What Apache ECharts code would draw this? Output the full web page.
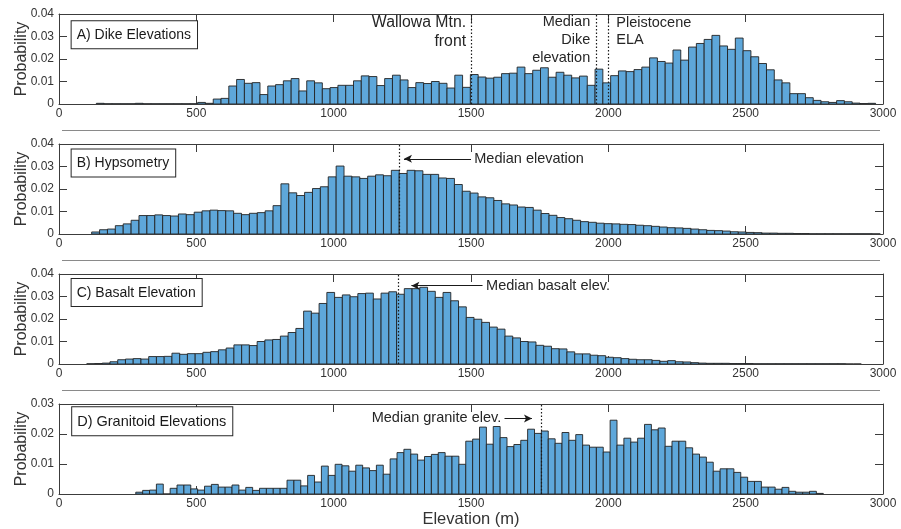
<!DOCTYPE html>
<html>
<head>
<meta charset="utf-8">
<script src="https://cdn.jsdelivr.net/npm/echarts@6/dist/echarts.min.js"></script>
<style>
  html, body { margin: 0; padding: 0; background: #fff; }
  #chart { width: 901px; height: 529px; }
</style>
</head>
<body>
<div id="chart"></div>
<script>
// Elevation histograms (probability per bin), 100 equal-width bins per panel.
const elevTicks = [0, 500, 1000, 1500, 2000, 2500, 3000];

const dikeBinStart = 136, dikeBinWidth = 28.37;
const dikeProb = [
  0.0003, 0.0001, 0.0001, 0.0001, 0.0001, 0.0003, 0.0001, 0.0001, 0.0001, 0.0001,
  0.0001, 0.0001, 0.0001, 0.0007, 0.0003, 0.0022, 0.0025, 0.0080, 0.0109, 0.0092,
  0.0095, 0.0042, 0.0080, 0.0086, 0.0103, 0.0113, 0.0058, 0.0103, 0.0094, 0.0068,
  0.0073, 0.0083, 0.0083, 0.0103, 0.0125, 0.0122, 0.0082, 0.0113, 0.0128, 0.0107,
  0.0073, 0.0095, 0.0091, 0.0100, 0.0092, 0.0071, 0.0128, 0.0074, 0.0131, 0.0120,
  0.0115, 0.0119, 0.0135, 0.0137, 0.0164, 0.0135, 0.0150, 0.0161, 0.0119, 0.0141,
  0.0128, 0.0116, 0.0124, 0.0083, 0.0155, 0.0094, 0.0126, 0.0147, 0.0144, 0.0153,
  0.0164, 0.0205, 0.0189, 0.0182, 0.0240, 0.0195, 0.0253, 0.0269, 0.0287, 0.0305,
  0.0258, 0.0243, 0.0293, 0.0237, 0.0210, 0.0180, 0.0152, 0.0107, 0.0094, 0.0046,
  0.0046, 0.0028, 0.0016, 0.0010, 0.0007, 0.0015, 0.0010, 0.0004, 0.0002, 0.0003
];

const hypsoBinStart = 119, hypsoBinWidth = 28.71;
const hypsoProb = [
  0.0009, 0.0019, 0.0022, 0.0037, 0.0045, 0.0061, 0.0082, 0.0082, 0.0085, 0.0082,
  0.0080, 0.0089, 0.0086, 0.0097, 0.0103, 0.0106, 0.0104, 0.0103, 0.0092, 0.0086,
  0.0092, 0.0095, 0.0103, 0.0126, 0.0223, 0.0183, 0.0171, 0.0185, 0.0202, 0.0210,
  0.0254, 0.0302, 0.0257, 0.0254, 0.0247, 0.0257, 0.0263, 0.0259, 0.0283, 0.0269,
  0.0283, 0.0281, 0.0265, 0.0265, 0.0249, 0.0247, 0.0220, 0.0190, 0.0182, 0.0165,
  0.0161, 0.0149, 0.0134, 0.0129, 0.0120, 0.0118, 0.0106, 0.0091, 0.0083, 0.0073,
  0.0068, 0.0061, 0.0055, 0.0052, 0.0048, 0.0046, 0.0045, 0.0043, 0.0042, 0.0039,
  0.0037, 0.0034, 0.0031, 0.0028, 0.0027, 0.0025, 0.0022, 0.0019, 0.0016, 0.0015,
  0.0013, 0.0010, 0.0009, 0.0007, 0.0006, 0.0004, 0.0004, 0.0003, 0.0003, 0.0002,
  0.0002, 0.0001, 0.0001, 0.0001, 0.0001, 0.0001, 0.0001, 0.0001, 0.0001, 0.00005
];

const basaltBinStart = 101, basaltBinWidth = 28.2;
const basaltProb = [
  0.0001, 0.0002, 0.0004, 0.0010, 0.0019, 0.0022, 0.0024, 0.0022, 0.0033, 0.0033,
  0.0034, 0.0048, 0.0043, 0.0046, 0.0046, 0.0052, 0.0055, 0.0063, 0.0071, 0.0085,
  0.0085, 0.0082, 0.0100, 0.0107, 0.0109, 0.0124, 0.0140, 0.0158, 0.0235, 0.0226,
  0.0269, 0.0318, 0.0296, 0.0307, 0.0299, 0.0313, 0.0315, 0.0289, 0.0315, 0.0321,
  0.0310, 0.0335, 0.0335, 0.0341, 0.0323, 0.0296, 0.0318, 0.0281, 0.0254, 0.0207,
  0.0199, 0.0185, 0.0164, 0.0155, 0.0124, 0.0116, 0.0100, 0.0098, 0.0083, 0.0079,
  0.0068, 0.0067, 0.0054, 0.0045, 0.0045, 0.0039, 0.0037, 0.0030, 0.0028, 0.0024,
  0.0021, 0.0019, 0.0019, 0.0016, 0.0012, 0.0015, 0.0010, 0.0009, 0.0006, 0.0004,
  0.0003, 0.0003, 0.0003, 0.0002, 0.0002, 0.0002, 0.0001, 0.0001, 0.0001, 0.0001,
  0.0001, 0.0001, 0.0001, 0.0001, 0.0001, 0.0001, 0.0001, 0.0001, 0, 0
];

const graniteBinStart = 279.5, graniteBinWidth = 25.03;
const graniteProb = [
  0.0006, 0.0012, 0.0013, 0.0033, 0, 0.0019, 0.0030, 0.0030, 0.0017, 0.0013,
  0.0026, 0.0032, 0.0023, 0.0023, 0.0030, 0.0013, 0.0022, 0.0012, 0.0019, 0.0019,
  0.0019, 0.0019, 0.0046, 0.0046, 0.0027, 0.0062, 0.0040, 0.0093, 0.0062, 0.0099,
  0.0094, 0.0076, 0.0096, 0.0087, 0.0078, 0.0096, 0.0066, 0.0117, 0.0138, 0.0149,
  0.0133, 0.0113, 0.0125, 0.0132, 0.0138, 0.0126, 0.0126, 0.0099, 0.0176, 0.0183,
  0.0223, 0.0166, 0.0225, 0.0188, 0.0158, 0.0165, 0.0179, 0.0216, 0.0202, 0.0210,
  0.0184, 0.0169, 0.0205, 0.0179, 0.0198, 0.0163, 0.0156, 0.0156, 0.0140, 0.0246,
  0.0163, 0.0186, 0.0173, 0.0186, 0.0232, 0.0214, 0.0220, 0.0159, 0.0176, 0.0176,
  0.0154, 0.0133, 0.0123, 0.0106, 0.0076, 0.0084, 0.0084, 0.0072, 0.0056, 0.0042,
  0.0042, 0.0023, 0.0023, 0.0016, 0.0022, 0.0009, 0.0006, 0.0006, 0.0009, 0.0002
];

// Reference elevations marked with dotted lines (m)
const dikeMarks = [1500, 1955, 2000];
const hypsoMedian = 1240;
const basaltMedian = 1235;
const graniteMedian = 1755;

const FONT = '"Liberation Sans", Arial, Helvetica, sans-serif';
const AXIS_COLOR = '#3c3c3c';
const TEXT_COLOR = '#262626';
const BAR_FILL = '#5ea7da';
const BAR_EDGE = '#222222';

const panels = [
  { title: 'A) Dike Elevations', start: dikeBinStart, width: dikeBinWidth, prob: dikeProb, yMax: 0.04, top: 14,
    lines: dikeMarks, arrows: [],
    titlePos: [46, 0.0368], titleSize: 14,
    notes: [
      { x: 1482, y: 0.0320, text: 'Wallowa Mtn.\nfront', align: 'right', lh: 19, size: 15.8 },
      { x: 1934, y: 0.0283, text: 'Median\nDike\nelevation', align: 'right', lh: 18, size: 14.5 },
      { x: 2029, y: 0.0323, text: 'Pleistocene\nELA', align: 'left', lh: 17, size: 14.5 }
    ] },
  { title: 'B) Hypsometry', start: hypsoBinStart, width: hypsoBinWidth, prob: hypsoProb, yMax: 0.04, top: 144,
    lines: [hypsoMedian], arrows: [[1500, 1256, 0.0334]],
    titlePos: [46, 0.0376], titleSize: 14,
    notes: [{ x: 1512, y: 0.0334, text: 'Median elevation', align: 'left', lh: 18, size: 14.5 }] },
  { title: 'C) Basalt Elevation', start: basaltBinStart, width: basaltBinWidth, prob: basaltProb, yMax: 0.04, top: 274,
    lines: [basaltMedian], arrows: [[1542, 1283, 0.0348]],
    titlePos: [46, 0.0378], titleSize: 14,
    notes: [{ x: 1555, y: 0.0348, text: 'Median basalt elev.', align: 'left', lh: 18, size: 14.5 }] },
  { title: 'D) Granitoid Elevations', start: graniteBinStart, width: graniteBinWidth, prob: graniteProb, yMax: 0.03, top: 404,
    lines: [graniteMedian], arrows: [[1622, 1722, 0.0252]],
    titlePos: [48, 0.0289], titleSize: 14.5,
    notes: [{ x: 1610, y: 0.0252, text: 'Median granite elev.', align: 'right', lh: 18, size: 14.5 }] }
];

const GRID_H = 90;

function renderBin(params, api) {
  const x0 = api.value(0), x1 = api.value(1), v = api.value(2);
  const pTop = api.coord([x0, v]);
  const pBot = api.coord([x1, 0]);
  return {
    type: 'rect',
    shape: { x: pTop[0], y: pTop[1], width: pBot[0] - pTop[0], height: pBot[1] - pTop[1] },
    style: { fill: BAR_FILL, stroke: BAR_EDGE, lineWidth: 0.9 }
  };
}

const plainNumber = v => String(v);

const grids = [], xAxes = [], yAxes = [], series = [];
panels.forEach((p, i) => {
  grids.push({ left: 59, right: 18, top: p.top, height: GRID_H, show: false });
  const tick = { show: true, inside: true, length: 8, lineStyle: { color: AXIS_COLOR, width: 1 } };
  const line = { show: true, onZero: false, lineStyle: { color: AXIS_COLOR, width: 1 } };
  xAxes.push({
    gridIndex: i, type: 'value', min: elevTicks[0], max: elevTicks[elevTicks.length - 1],
    interval: elevTicks[1] - elevTicks[0], position: 'bottom',
    axisLine: line, axisTick: tick, splitLine: { show: false },
    axisLabel: { color: '#333', fontSize: 12, fontFamily: FONT, margin: 4, formatter: plainNumber },
    name: i === 3 ? 'Elevation (m)' : '', nameLocation: 'middle', nameGap: 17,
    nameTextStyle: { color: '#333', fontSize: 16.5, fontFamily: FONT }
  });
  xAxes.push({
    gridIndex: i, type: 'value', min: elevTicks[0], max: elevTicks[elevTicks.length - 1],
    interval: elevTicks[1] - elevTicks[0], position: 'top',
    axisLine: line, axisTick: tick, splitLine: { show: false }, axisLabel: { show: false }
  });
  yAxes.push({
    gridIndex: i, type: 'value', min: 0, max: p.yMax, interval: 0.01, position: 'left',
    axisLine: line, axisTick: tick, splitLine: { show: false },
    axisLabel: { color: '#333', fontSize: 12, fontFamily: FONT, margin: 5 },
    name: 'Probability', nameLocation: 'middle', nameGap: 29, nameMoveOverlap: false,
    nameTextStyle: { color: '#333', fontSize: 16, fontFamily: FONT }
  });
  yAxes.push({
    gridIndex: i, type: 'value', min: 0, max: p.yMax, interval: 0.01, position: 'right',
    axisLine: line, axisTick: tick, splitLine: { show: false }, axisLabel: { show: false }
  });

  const data = p.prob.map((v, k) => [p.start + k * p.width, p.start + (k + 1) * p.width, v]);
  // histogram bars with dotted reference lines
  series.push({
    type: 'custom', xAxisIndex: 2 * i, yAxisIndex: 2 * i,
    renderItem: renderBin, encode: { x: [0, 1], y: 2 }, data: data,
    clip: true,
    markLine: {
      silent: true, symbol: 'none', label: { show: false }, animation: false,
      lineStyle: { type: [1.5, 2], color: '#1a1a1a', width: 1.2 },
      data: p.lines.map(x => ({ xAxis: x }))
    }
  });
  // leader arrows pointing at the median lines
  if (p.arrows.length) {
    series.push({
      type: 'line', xAxisIndex: 2 * i, yAxisIndex: 2 * i, data: [], silent: true,
      markLine: {
        silent: true, symbol: ['none', 'arrow'], symbolSize: [6, 8], label: { show: false },
        animation: false, lineStyle: { type: 'solid', color: '#1a1a1a', width: 1 },
        data: p.arrows.map(a => [{ coord: [a[0], a[2]] }, { coord: [a[1], a[2]] }])
      }
    });
  }
});

const chart = echarts.init(document.getElementById('chart'), null, { renderer: 'canvas' });
chart.setOption({
  animation: false,
  backgroundColor: '#fff',
  grid: grids, xAxis: xAxes, yAxis: yAxes, series: series
});

// Panel titles, annotation texts and panel separators
const graphics = [];
panels.forEach((p, i) => {
  const finder = { xAxisIndex: 2 * i, yAxisIndex: 2 * i };
  const tp = chart.convertToPixel(finder, p.titlePos);
  graphics.push({
    type: 'text', x: tp[0], y: tp[1], z: 10,
    style: {
      text: p.title, font: p.titleSize + 'px ' + FONT, fill: '#1a1a1a', align: 'left', verticalAlign: 'top',
      backgroundColor: '#fff', borderColor: '#262626', borderWidth: 1, padding: [7, 6, 6, 5]
    }
  });
  p.notes.forEach(n => {
    const np = chart.convertToPixel(finder, [n.x, n.y]);
    graphics.push({
      type: 'text', x: np[0], y: np[1], z: 10,
      style: {
        text: n.text, font: n.size + 'px ' + FONT, fill: TEXT_COLOR, align: n.align,
        verticalAlign: 'middle', lineHeight: n.lh
      }
    });
  });
  if (i > 0) {
    const yTop = p.top - 13.5;
    graphics.push({
      type: 'line', z: 5, silent: true,
      shape: { x1: 62, y1: yTop, x2: 880, y2: yTop },
      style: { stroke: '#8a8a8a', lineWidth: 1 }
    });
  }
});
chart.setOption({ graphic: graphics });
</script>
</body>
</html>
